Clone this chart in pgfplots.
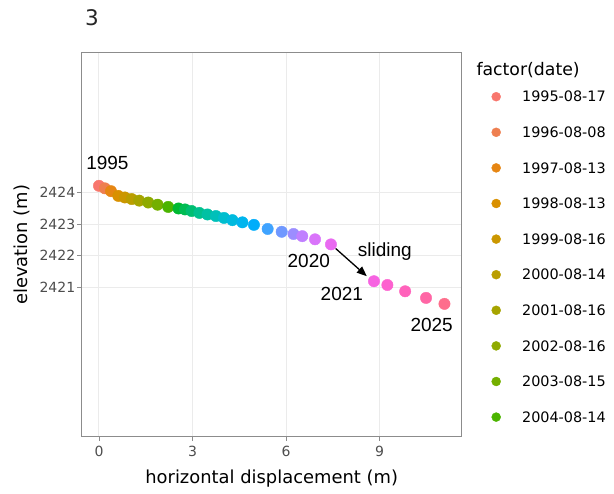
\documentclass[border=0pt]{standalone}
\usepackage{pgfplots}
\pgfplotsset{compat=1.18}
\usepackage{fontspec}
\setmainfont{DejaVu Sans}
\newfontfamily\annfont{Liberation Sans}
\usetikzlibrary{arrows.meta}

% hue palette, one colour per survey date
\definecolor{c1}{HTML}{F8766D}
\definecolor{c2}{HTML}{EE7F50}
\definecolor{c3}{HTML}{E68613}
\definecolor{c4}{HTML}{D99000}
\definecolor{c5}{HTML}{CB9700}
\definecolor{c6}{HTML}{BA9E00}
\definecolor{c7}{HTML}{A6A400}
\definecolor{c8}{HTML}{8FAA00}
\definecolor{c9}{HTML}{74AF00}
\definecolor{c10}{HTML}{4BB400}
\definecolor{c11}{HTML}{00B931}
\definecolor{c12}{HTML}{00BC53}
\definecolor{c13}{HTML}{00BE71}
\definecolor{c14}{HTML}{00C08D}
\definecolor{c15}{HTML}{00C1A3}
\definecolor{c16}{HTML}{00C0B9}
\definecolor{c17}{HTML}{00BECE}
\definecolor{c18}{HTML}{00BADE}
\definecolor{c19}{HTML}{00B5EE}
\definecolor{c20}{HTML}{00ADFA}
\definecolor{c21}{HTML}{3FA3FF}
\definecolor{c22}{HTML}{7098FF}
\definecolor{c23}{HTML}{9C8DFF}
\definecolor{c24}{HTML}{C080FF}
\definecolor{c25}{HTML}{D974FA}
\definecolor{c26}{HTML}{E96AF1}
\definecolor{c27}{HTML}{F663E1}
\definecolor{c28}{HTML}{FD61CF}
\definecolor{c29}{HTML}{FF62BB}
\definecolor{c30}{HTML}{FF66A5}
\definecolor{c31}{HTML}{FE6E8C}
\definecolor{gridgray}{HTML}{EBEBEB}
\definecolor{framegray}{HTML}{8C8C8C}
\definecolor{ticktext}{HTML}{4D4D4D}

\pgfplotsset{
  pt/.style={only marks, mark=*, mark size=5.7bp, color=#1},
}

\begin{document}
\begin{tikzpicture}
\path[use as bounding box] (0,0) rectangle (614bp,494bp);
\begin{axis}[
  at={(81.7bp,57.3bp)}, anchor=south west,
  scale only axis, width=380bp, height=383.7bp,
  xmin=-0.554, xmax=11.634,
  ymin=2416.251, ymax=2428.439,
  xtick={0,3,6,9}, xticklabels={0,3,6,9},
  ytick={2421,2422,2423,2424}, yticklabels={2421,2422,2423,2424},
  minor tick num=0,
  xtick pos=bottom, ytick pos=left,
  tick align=outside, major tick length=4.5bp,
  tick style={framegray, line width=0.8bp},
  axis line style={framegray, line width=1bp},
  grid=major, major grid style={gridgray, line width=1bp},
  ticklabel style={font=\fontsize{14bp}{16bp}\selectfont, text=ticktext},
  xticklabel style={yshift=-1.5bp},
  yticklabel style={xshift=1.5bp},
  xlabel={horizontal displacement (m)},
  ylabel={elevation (m)},
  label style={font=\fontsize{17.9bp}{20bp}\selectfont},
  xlabel style={at={(axis description cs:0.5,-0.110)}, anchor=center},
  ylabel style={at={(axis description cs:-0.157,0.5)}, anchor=center, rotate=0},
  legend style={at={(axis description cs:1.0784,0.8998)}, anchor=north west,
    draw=none, fill=none, inner sep=0pt, outer sep=0pt,
    font=\fontsize{14.4bp}{17bp}\selectfont,
    row sep=25.1bp, column sep=21.2bp,
    nodes={inner sep=0pt, text height=10.5bp, text depth=0pt}},
  legend cell align=left,
  legend image code/.code={\fill (0bp,0bp) circle (4.5bp);},
  clip=false,
]
\addplot[pt=c1] coordinates {(0.00,2424.22)};
\addlegendentry{1995-08-17}
\addplot[pt=c2] coordinates {(0.19,2424.14)};
\addlegendentry{1996-08-08}
\addplot[pt=c3] coordinates {(0.385,2424.05)};
\addlegendentry{1997-08-13}
\addplot[pt=c4] coordinates {(0.62,2423.90)};
\addlegendentry{1998-08-13}
\addplot[pt=c5] coordinates {(0.83,2423.85)};
\addlegendentry{1999-08-16}
\addplot[pt=c6] coordinates {(1.05,2423.80)};
\addlegendentry{2000-08-14}
\addplot[pt=c7] coordinates {(1.29,2423.75)};
\addlegendentry{2001-08-16}
\addplot[pt=c8] coordinates {(1.58,2423.69)};
\addlegendentry{2002-08-16}
\addplot[pt=c9] coordinates {(1.88,2423.62)};
\addlegendentry{2003-08-15}
\addplot[pt=c10] coordinates {(2.22,2423.55)};
\addlegendentry{2004-08-14}
\addplot[pt=c11] coordinates {(2.55,2423.50)};
\addplot[pt=c12] coordinates {(2.76,2423.47)};
\addplot[pt=c13] coordinates {(2.97,2423.42)};
\addplot[pt=c14] coordinates {(3.22,2423.36)};
\addplot[pt=c15] coordinates {(3.48,2423.31)};
\addplot[pt=c16] coordinates {(3.75,2423.26)};
\addplot[pt=c17] coordinates {(4.01,2423.20)};
\addplot[pt=c18] coordinates {(4.28,2423.13)};
\addplot[pt=c19] coordinates {(4.60,2423.06)};
\addplot[pt=c20] coordinates {(4.97,2422.98)};
\addplot[pt=c21] coordinates {(5.41,2422.85)};
\addplot[pt=c22] coordinates {(5.86,2422.76)};
\addplot[pt=c23] coordinates {(6.24,2422.69)};
\addplot[pt=c24] coordinates {(6.52,2422.62)};
\addplot[pt=c25] coordinates {(6.93,2422.52)};
\addplot[pt=c26] coordinates {(7.44,2422.36)};
\addplot[pt=c27] coordinates {(8.82,2421.19)};
\addplot[pt=c28] coordinates {(9.25,2421.07)};
\addplot[pt=c29] coordinates {(9.82,2420.87)};
\addplot[pt=c30] coordinates {(10.49,2420.66)};
\addplot[pt=c31] coordinates {(11.08,2420.47)};

% year labels and the sliding arrow
\begin{scope}[font=\annfont\fontsize{19bp}{22bp}\selectfont]
\node[anchor=base] at (axis cs:0.27,2424.74) {1995};
\node[anchor=base] at (axis cs:6.73,2421.61) {2020};
\node[anchor=base] at (axis cs:7.79,2420.585) {2021};
\node[anchor=base] at (axis cs:10.67,2419.58) {2025};
\node[anchor=base] at (axis cs:9.17,2421.985) {sliding};
\end{scope}
\draw[line width=1.3bp, -{Triangle[length=10bp,width=8bp]}]
  (axis cs:7.59,2422.23) -- (axis cs:8.59,2421.35);

% panel title and legend title
\node[anchor=base west, font=\fontsize{21.5bp}{24bp}\selectfont, text=black!85]
  at (axis description cs:0.0,1.0717) {3};
\node[anchor=base west, font=\fontsize{17.3bp}{20bp}\selectfont]
  at (axis description cs:1.0297,0.9408) {factor(date)};
\end{axis}
\end{tikzpicture}
\end{document}
